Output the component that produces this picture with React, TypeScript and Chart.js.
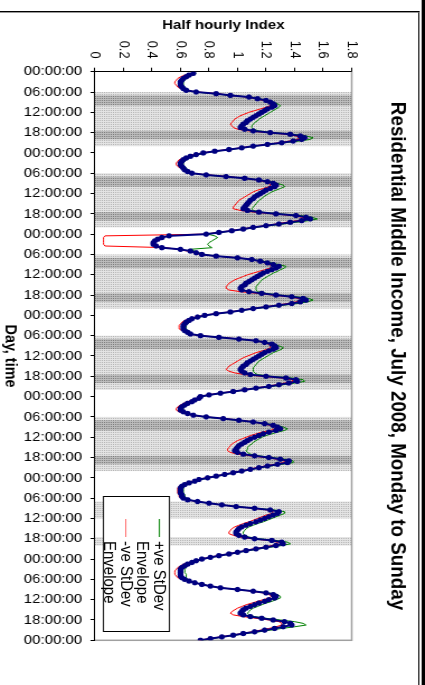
import { useEffect, useRef } from 'react';
import { Chart, registerables } from 'chart.js';

Chart.register(...registerables);

// ---------- data (half-hourly index, period ending 00:30 ... 24:00) ----------
const MON_MEAN = [0.69,0.66,0.64,0.62,0.61,0.60,0.60,0.60,0.61,0.62,0.64,0.71,0.85,0.95,1.08,1.14,1.20,1.23,1.25,1.26,1.24,1.21,1.19,1.17,1.15,1.13,1.11,1.09,1.07,1.06,1.04,1.03,1.02,1.05,1.11,1.23,1.37,1.44,1.47,1.45,1.39,1.31,1.21,1.11,1.03,0.94,0.84,0.76];
const MON_HI = [0.71,0.68,0.66,0.64,0.63,0.62,0.62,0.62,0.63,0.64,0.65,0.70,0.83,0.95,1.08,1.15,1.21,1.25,1.28,1.30,1.29,1.27,1.25,1.23,1.21,1.19,1.17,1.15,1.14,1.12,1.11,1.10,1.10,1.11,1.15,1.25,1.39,1.48,1.53,1.51,1.43,1.33,1.22,1.12,1.04,0.95,0.85,0.77];
const MON_LO = [0.67,0.63,0.60,0.58,0.57,0.56,0.56,0.57,0.58,0.60,0.63,0.72,0.86,0.95,1.07,1.13,1.18,1.21,1.23,1.23,1.20,1.16,1.12,1.08,1.05,1.02,1.00,0.98,0.97,0.96,0.95,0.96,0.97,1.00,1.08,1.21,1.35,1.41,1.43,1.42,1.36,1.29,1.20,1.10,1.02,0.93,0.83,0.75];

const TUE_MEAN = [0.71,0.67,0.64,0.62,0.61,0.60,0.60,0.61,0.62,0.63,0.65,0.68,0.78,0.92,1.05,1.15,1.21,1.25,1.27,1.26,1.23,1.20,1.18,1.16,1.14,1.12,1.11,1.09,1.08,1.07,1.06,1.05,1.04,1.07,1.15,1.27,1.41,1.48,1.51,1.45,1.37,1.29,1.20,1.11,1.04,0.96,0.87,0.78];
const TUE_HI = [0.73,0.69,0.66,0.64,0.63,0.62,0.62,0.63,0.64,0.65,0.66,0.68,0.77,0.91,1.05,1.16,1.23,1.28,1.32,1.33,1.30,1.27,1.24,1.22,1.20,1.18,1.17,1.15,1.14,1.13,1.12,1.11,1.10,1.11,1.17,1.29,1.44,1.52,1.56,1.50,1.41,1.32,1.22,1.13,1.05,0.97,0.88,0.79];
const TUE_LO = [0.69,0.65,0.62,0.59,0.58,0.57,0.57,0.58,0.60,0.61,0.64,0.68,0.79,0.93,1.05,1.14,1.19,1.22,1.23,1.22,1.18,1.14,1.11,1.09,1.07,1.05,1.03,1.01,1.00,0.99,0.98,0.97,0.97,1.02,1.12,1.25,1.39,1.45,1.47,1.42,1.34,1.27,1.19,1.10,1.03,0.95,0.86,0.77];

const WED_MEAN = [0.52,0.47,0.44,0.42,0.41,0.41,0.43,0.47,0.60,0.67,0.71,0.75,0.85,1.00,1.10,1.16,1.21,1.25,1.29,1.27,1.24,1.21,1.18,1.16,1.14,1.12,1.10,1.08,1.06,1.05,1.03,1.02,1.03,1.08,1.17,1.27,1.38,1.46,1.48,1.44,1.38,1.29,1.20,1.11,1.03,0.95,0.85,0.77];
const WED_HI = [0.84,0.86,0.84,0.82,0.80,0.79,0.80,0.82,0.66,0.70,0.73,0.76,0.85,0.99,1.10,1.18,1.24,1.29,1.34,1.33,1.30,1.28,1.25,1.23,1.21,1.19,1.17,1.16,1.15,1.14,1.13,1.13,1.13,1.14,1.20,1.29,1.41,1.50,1.53,1.49,1.42,1.32,1.22,1.12,1.04,0.96,0.86,0.78];
const WED_LO = [0.07,0.06,0.06,0.06,0.06,0.06,0.07,0.50,0.58,0.65,0.69,0.74,0.85,1.01,1.10,1.15,1.19,1.22,1.25,1.23,1.19,1.15,1.11,1.07,1.04,1.01,0.98,0.96,0.94,0.93,0.92,0.92,0.94,1.02,1.14,1.25,1.36,1.43,1.44,1.41,1.35,1.27,1.19,1.10,1.02,0.94,0.84,0.76];

const THU_MEAN = [0.72,0.68,0.66,0.64,0.63,0.62,0.62,0.62,0.63,0.65,0.67,0.74,0.87,1.01,1.13,1.19,1.24,1.26,1.27,1.25,1.22,1.19,1.17,1.15,1.13,1.11,1.09,1.07,1.06,1.04,1.03,1.02,1.03,1.05,1.09,1.20,1.34,1.41,1.42,1.36,1.29,1.22,1.13,1.05,0.97,0.88,0.80,0.74];
const THU_HI = [0.74,0.70,0.68,0.66,0.65,0.64,0.64,0.64,0.65,0.66,0.67,0.73,0.86,1.00,1.13,1.20,1.26,1.29,1.32,1.31,1.28,1.25,1.23,1.21,1.19,1.17,1.15,1.14,1.13,1.12,1.11,1.11,1.11,1.12,1.14,1.23,1.38,1.46,1.47,1.40,1.32,1.24,1.14,1.06,0.98,0.89,0.81,0.75];
const THU_LO = [0.70,0.66,0.63,0.61,0.60,0.59,0.59,0.59,0.61,0.63,0.66,0.74,0.88,1.02,1.13,1.18,1.22,1.23,1.23,1.21,1.17,1.13,1.10,1.07,1.04,1.02,1.00,0.98,0.96,0.94,0.93,0.92,0.94,0.98,1.05,1.17,1.31,1.38,1.39,1.33,1.27,1.20,1.12,1.04,0.96,0.87,0.79,0.73];

const FRI_MEAN = [0.73,0.70,0.68,0.65,0.63,0.61,0.60,0.60,0.62,0.65,0.69,0.78,0.90,1.01,1.11,1.19,1.25,1.28,1.30,1.27,1.22,1.18,1.15,1.12,1.09,1.07,1.05,1.03,1.01,1.00,0.99,0.98,1.00,1.04,1.12,1.22,1.30,1.36,1.35,1.28,1.21,1.15,1.09,1.03,0.97,0.91,0.85,0.79];
const FRI_HI = [0.75,0.72,0.70,0.67,0.65,0.63,0.62,0.62,0.63,0.65,0.68,0.76,0.88,1.00,1.11,1.20,1.28,1.32,1.35,1.33,1.28,1.24,1.20,1.17,1.15,1.13,1.11,1.10,1.08,1.07,1.07,1.06,1.07,1.09,1.15,1.24,1.33,1.39,1.39,1.31,1.23,1.16,1.10,1.04,0.98,0.92,0.86,0.80];
const FRI_LO = [0.71,0.68,0.65,0.62,0.60,0.58,0.57,0.57,0.59,0.63,0.68,0.78,0.91,1.02,1.11,1.18,1.23,1.25,1.26,1.23,1.17,1.13,1.09,1.06,1.03,1.00,0.98,0.96,0.95,0.94,0.93,0.93,0.95,1.00,1.09,1.20,1.28,1.33,1.32,1.26,1.19,1.13,1.08,1.02,0.96,0.90,0.84,0.78];

const SAT_MEAN = [0.73,0.70,0.66,0.63,0.61,0.60,0.60,0.60,0.60,0.61,0.61,0.62,0.65,0.72,0.80,0.89,0.99,1.12,1.23,1.29,1.28,1.25,1.22,1.19,1.16,1.13,1.09,1.06,1.03,1.01,1.00,0.99,0.99,1.01,1.05,1.12,1.24,1.31,1.32,1.27,1.20,1.13,1.06,1.00,0.94,0.87,0.81,0.75];
const SAT_HI = [0.75,0.72,0.68,0.65,0.63,0.62,0.62,0.62,0.62,0.63,0.63,0.64,0.66,0.72,0.80,0.89,0.99,1.13,1.26,1.33,1.33,1.30,1.27,1.24,1.21,1.18,1.14,1.11,1.08,1.06,1.05,1.04,1.04,1.05,1.08,1.15,1.27,1.35,1.37,1.31,1.23,1.15,1.08,1.01,0.95,0.88,0.82,0.76];
const SAT_LO = [0.71,0.68,0.64,0.61,0.59,0.58,0.58,0.58,0.58,0.59,0.59,0.60,0.64,0.72,0.80,0.89,0.99,1.11,1.21,1.25,1.24,1.20,1.17,1.14,1.11,1.08,1.04,1.01,0.98,0.96,0.95,0.94,0.94,0.97,1.02,1.10,1.22,1.28,1.28,1.24,1.18,1.11,1.05,0.99,0.93,0.86,0.80,0.74];

const SUN_MEAN = [0.71,0.68,0.65,0.63,0.61,0.60,0.60,0.60,0.60,0.60,0.61,0.63,0.66,0.70,0.75,0.81,0.88,1.00,1.11,1.20,1.25,1.27,1.26,1.22,1.19,1.15,1.12,1.09,1.06,1.04,1.03,1.02,1.04,1.09,1.17,1.25,1.33,1.37,1.38,1.32,1.26,1.19,1.12,1.04,0.97,0.89,0.81,0.74];
const SUN_HI = [0.73,0.70,0.67,0.65,0.64,0.63,0.63,0.63,0.64,0.64,0.64,0.65,0.67,0.70,0.75,0.81,0.88,1.00,1.12,1.22,1.28,1.30,1.30,1.27,1.24,1.20,1.17,1.14,1.11,1.09,1.08,1.07,1.08,1.12,1.20,1.30,1.40,1.46,1.48,1.40,1.31,1.23,1.15,1.06,0.98,0.90,0.82,0.75];
const SUN_LO = [0.69,0.66,0.62,0.60,0.58,0.57,0.56,0.56,0.56,0.57,0.58,0.61,0.65,0.70,0.75,0.81,0.88,1.00,1.10,1.18,1.22,1.24,1.22,1.18,1.14,1.10,1.06,1.03,1.00,0.98,0.96,0.95,0.97,1.04,1.13,1.22,1.29,1.31,1.31,1.27,1.22,1.16,1.10,1.03,0.96,0.88,0.80,0.73];

const DAYS_MEAN = [MON_MEAN, TUE_MEAN, WED_MEAN, THU_MEAN, FRI_MEAN, SAT_MEAN, SUN_MEAN];
const DAYS_HI = [MON_HI, TUE_HI, WED_HI, THU_HI, FRI_HI, SAT_HI, SUN_HI];
const DAYS_LO = [MON_LO, TUE_LO, WED_LO, THU_LO, FRI_LO, SAT_LO, SUN_LO];

// time-of-use shading, hours of day: [day index, start, end]
const STANDARD_PERIODS = [[0,6,22],[1,6,22],[2,6,22],[3,6,22],[4,6,22],[5,7,12],[5,17.5,20]];
const PEAK_PERIODS = [[0,7,10],[0,17.5,20],[1,7,10],[1,17.5,20],[2,7,10],[2,17.5,20],[3,7,10],[3,17.5,20],[4,7,10],[4,17.5,20]];

const TITLE = 'Residential Middle Income, July 2008, Monday to Sunday';
const Y_TITLE = 'Half hourly Index';
const X_TITLE = 'Day, time';
const LEGEND_ITEMS = [
  { lines: ['+ve StDev', 'Envelope'], color: '#008000' },
  { lines: ['-ve StDev', 'Envelope'], color: '#ff6f6f' },
];

// ---------- layout ----------
const W = 685;
const H = 380;
const S = 425 / H;
const FONT = "'Liberation Sans', Arial, sans-serif";

function toPoints(days: number[][]) {
  const pts: { x: number; y: number }[] = [];
  days.forEach((vals, d) => {
    vals.forEach((v, i) => pts.push({ x: d * 24 + (i + 1) * 0.5, y: v }));
  });
  return pts;
}

function makePattern(base: string, dot: string, n: number) {
  const c = document.createElement('canvas');
  c.width = n; c.height = n;
  const g = c.getContext('2d')!;
  g.fillStyle = base; g.fillRect(0, 0, n, n);
  g.fillStyle = dot;
  for (let i = 0; i < n; i += 2) for (let j = 0; j < n; j += 2) g.fillRect(i, j, 1, 1);
  return g.createPattern(c, 'repeat')!;
}

export default function App() {
  const ref = useRef<HTMLCanvasElement>(null);
  useEffect(() => {
    const canvas = ref.current!;
    const lightPat = makePattern('#e4e4e4', '#b4b4b4', 4);
    const darkPat = makePattern('#bcbcbc', '#7c7c7c', 4);
    const bands = {
      id: 'bands',
      beforeDatasetsDraw(chart: any) {
        const { ctx, chartArea: a, scales } = chart;
        const x = scales.x;
        ctx.save();
        const fill = (list: number[][], style: any) => {
          ctx.fillStyle = style;
          list.forEach(([d, s, e]) => {
            const x0 = x.getPixelForValue(d * 24 + s);
            const x1 = x.getPixelForValue(d * 24 + e);
            ctx.fillRect(x0, a.top, x1 - x0, a.bottom - a.top);
          });
        };
        fill(STANDARD_PERIODS, lightPat);
        fill(PEAK_PERIODS, darkPat);
        ctx.strokeStyle = '#a0a0a0';
        ctx.lineWidth = 1.5;
        ctx.beginPath();
        ctx.moveTo(a.left, a.top);
        ctx.lineTo(a.right, a.top);
        ctx.lineTo(a.right, a.bottom);
        ctx.stroke();
        ctx.restore();
      },
    };
    const chart = new Chart(canvas, {
      type: 'line',
      data: {
        datasets: [
          {
            label: 'mean',
            data: toPoints(DAYS_MEAN),
            borderColor: '#000080',
            backgroundColor: '#000080',
            borderWidth: 2,
            pointRadius: 2.6,
            pointBorderWidth: 0,
            pointBackgroundColor: '#000080',
            order: 0,
          },
          {
            label: '-ve StDev Envelope',
            data: toPoints(DAYS_LO),
            borderColor: '#ff0000',
            borderWidth: 1,
            pointRadius: 0,
            order: 1,
          },
          {
            label: '+ve StDev Envelope',
            data: toPoints(DAYS_HI),
            borderColor: '#008000',
            borderWidth: 1,
            pointRadius: 0,
            order: 2,
          },
        ],
      },
      options: {
        animation: false,
        responsive: false,
        devicePixelRatio: 1,
        layout: { padding: { left: 0, right: W - 640.3, top: 0, bottom: 0 } },
        plugins: {
          legend: { display: false },
          tooltip: { enabled: false },
          title: {
            display: true,
            text: TITLE,
            fullSize: false,
            color: '#000',
            font: { family: FONT, size: 18.8, weight: 'bold', lineHeight: 1.2 },
            padding: { top: 13.7, bottom: 29.3 },
          },
        },
        scales: {
          x: {
            type: 'linear',
            min: 0,
            max: 168,
            afterFit: (s: any) => { s.height = H - 295.06; },
            ticks: {
              stepSize: 6,
              autoSkip: false,
              maxRotation: 90,
              minRotation: 90,
              color: '#000',
              padding: 7.5,
              font: { family: FONT, size: 13.4 },
              callback: (v: any) => String(Number(v) % 24).padStart(2, '0') + ':00:00',
            },
            grid: { drawOnChartArea: false, tickLength: 4, color: '#000' },
            border: { color: '#000', width: 1 },
            title: {
              display: true,
              text: X_TITLE,
              color: '#000',
              font: { family: FONT, size: 14.4, weight: 'bold', lineHeight: 1.2 },
              padding: { top: 0, bottom: 0.5 },
            },
          },
          y: {
            min: 0,
            max: 1.8,
            afterFit: (s: any) => { s.width = 71.7; },
            ticks: {
              stepSize: 0.2,
              color: '#000',
              padding: 9.2,
              font: { family: FONT, size: 12.8 },
              callback: (v: any) => String(Math.round(Number(v) * 10) / 10),
            },
            grid: { drawOnChartArea: false, tickLength: 4, color: '#000' },
            border: { color: '#000', width: 1 },
            title: {
              display: true,
              text: Y_TITLE,
              color: '#000',
              font: { family: FONT, size: 13.5, weight: 'bold', lineHeight: 1.2 },
              padding: { top: 17.4, bottom: 0 },
            },
          },
        },
      },
      plugins: [bands],
    });
    return () => chart.destroy();
  }, []);

  const legendTop = 227.7;
  return (
    <div style={{ position: 'fixed', left: 0, top: 0, width: 425, height: 685, overflow: 'hidden', background: '#fff' }}>
      <div
        style={{
          position: 'absolute', left: 0, top: 0, width: W, height: H,
          transformOrigin: '0 0',
          transform: `translate(425px, 0px) rotate(90deg) scale(1, ${S})`,
        }}
      >
        <div style={{ position: 'absolute', left: 0, top: 0, width: W, height: 2.7, background: '#000' }} />
        <div style={{ position: 'absolute', left: 11, top: 5.4, width: W - 11, height: 0.9, background: '#000' }} />
        <div style={{ position: 'absolute', left: 11, top: 5.4, width: 1, height: H - 5.4, background: '#000' }} />
        <div style={{ position: 'absolute', left: 12, top: 6.3, width: 0.6, height: H - 6.3, background: '#999' }} />
        <canvas ref={ref} width={W} height={H} style={{ position: 'absolute', left: 0, top: 0, width: W, height: H }} />
        <div
          style={{
            position: 'absolute', left: 496, top: legendTop, width: 136, height: 60,
            boxSizing: 'border-box', border: '1px solid #000', background: '#fff',
            fontFamily: FONT, fontSize: 15, color: '#000',
          }}
        >
          {LEGEND_ITEMS.map((it, k) => (
            <div key={k}>
              <div style={{ position: 'absolute', left: 22, top: 8.7 + k * 29.5, width: 18, height: 1, background: it.color }} />
              {it.lines.map((ln, j) => (
                <div key={j} style={{ position: 'absolute', left: 44, top: 0.7 + (k * 2 + j) * 14.9, lineHeight: '15px', whiteSpace: 'nowrap' }}>{ln}</div>
              ))}
            </div>
          ))}
        </div>
      </div>
    </div>
  );
}
